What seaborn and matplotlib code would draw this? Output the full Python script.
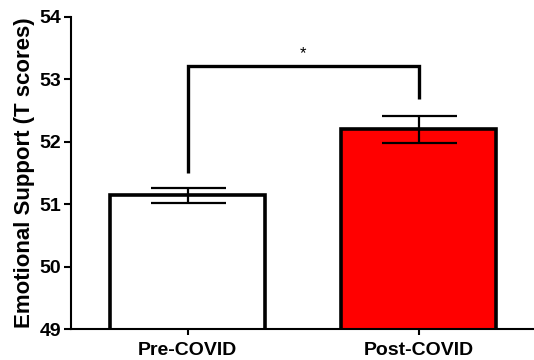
import pandas as pd
import seaborn as sns
import matplotlib.pyplot as plt

# valores
groups = ['Pre-COVID', 'Post-COVID']
means = [51.14, 52.2]
sems = [0.12, 0.22]
bar_colors = ['white', 'red']

df = pd.DataFrame({'Grupo': groups, 'Media': means})

sns.set_style('ticks')
plt.rcParams['font.family'] = ['Liberation Sans', 'DejaVu Sans']
plt.rcParams['text.color'] = 'black'
plt.rcParams['xtick.color'] = 'black'
plt.rcParams['ytick.color'] = 'black'
plt.rcParams['axes.labelcolor'] = 'black'
plt.rcParams['axes.edgecolor'] = 'black'

fig = plt.figure(figsize=(5.34, 3.6), dpi=100)
ax = fig.add_axes([0.133, 0.086, 0.867, 0.867])

sns.barplot(data=df, x='Grupo', y='Media', hue='Grupo', palette=bar_colors,
            saturation=1, errorbar=None, width=0.67, edgecolor='black',
            linewidth=2.6, legend=False, ax=ax)

# barras de error (SEM)
ax.errorbar(range(len(groups)), means, yerr=sems, fmt='none', ecolor='black',
            elinewidth=1.6, capsize=27, capthick=1.6, zorder=5)

# corchete de significancia
y_br = 53.21
ax.plot([0, 0, 1, 1], [51.5, y_br, y_br, 52.69], color='black', lw=2.4,
        solid_capstyle='butt', solid_joinstyle='miter', clip_on=False)
ax.text(0.5, 53.42, '*', ha='center', va='center', fontsize=12)

ax.set_ylim(49, 54)
ax.set_xlim(-0.506, 1.5)
ax.set_yticks([49, 50, 51, 52, 53, 54])
ax.set_xlabel('')
ax.set_ylabel('Emotional Support (T scores)', fontsize=16, fontweight='bold', labelpad=3)

for lab in ax.get_xticklabels() + ax.get_yticklabels():
    lab.set_fontweight('bold')
ax.tick_params(axis='y', labelsize=14, width=1.5, length=5, pad=2)
ax.tick_params(axis='x', labelsize=14, width=1.5, length=4, pad=5)

sns.despine(ax=ax)
ax.spines['left'].set_linewidth(1.5)
ax.spines['bottom'].set_linewidth(1.5)

fig.savefig('out.png', dpi=100)
